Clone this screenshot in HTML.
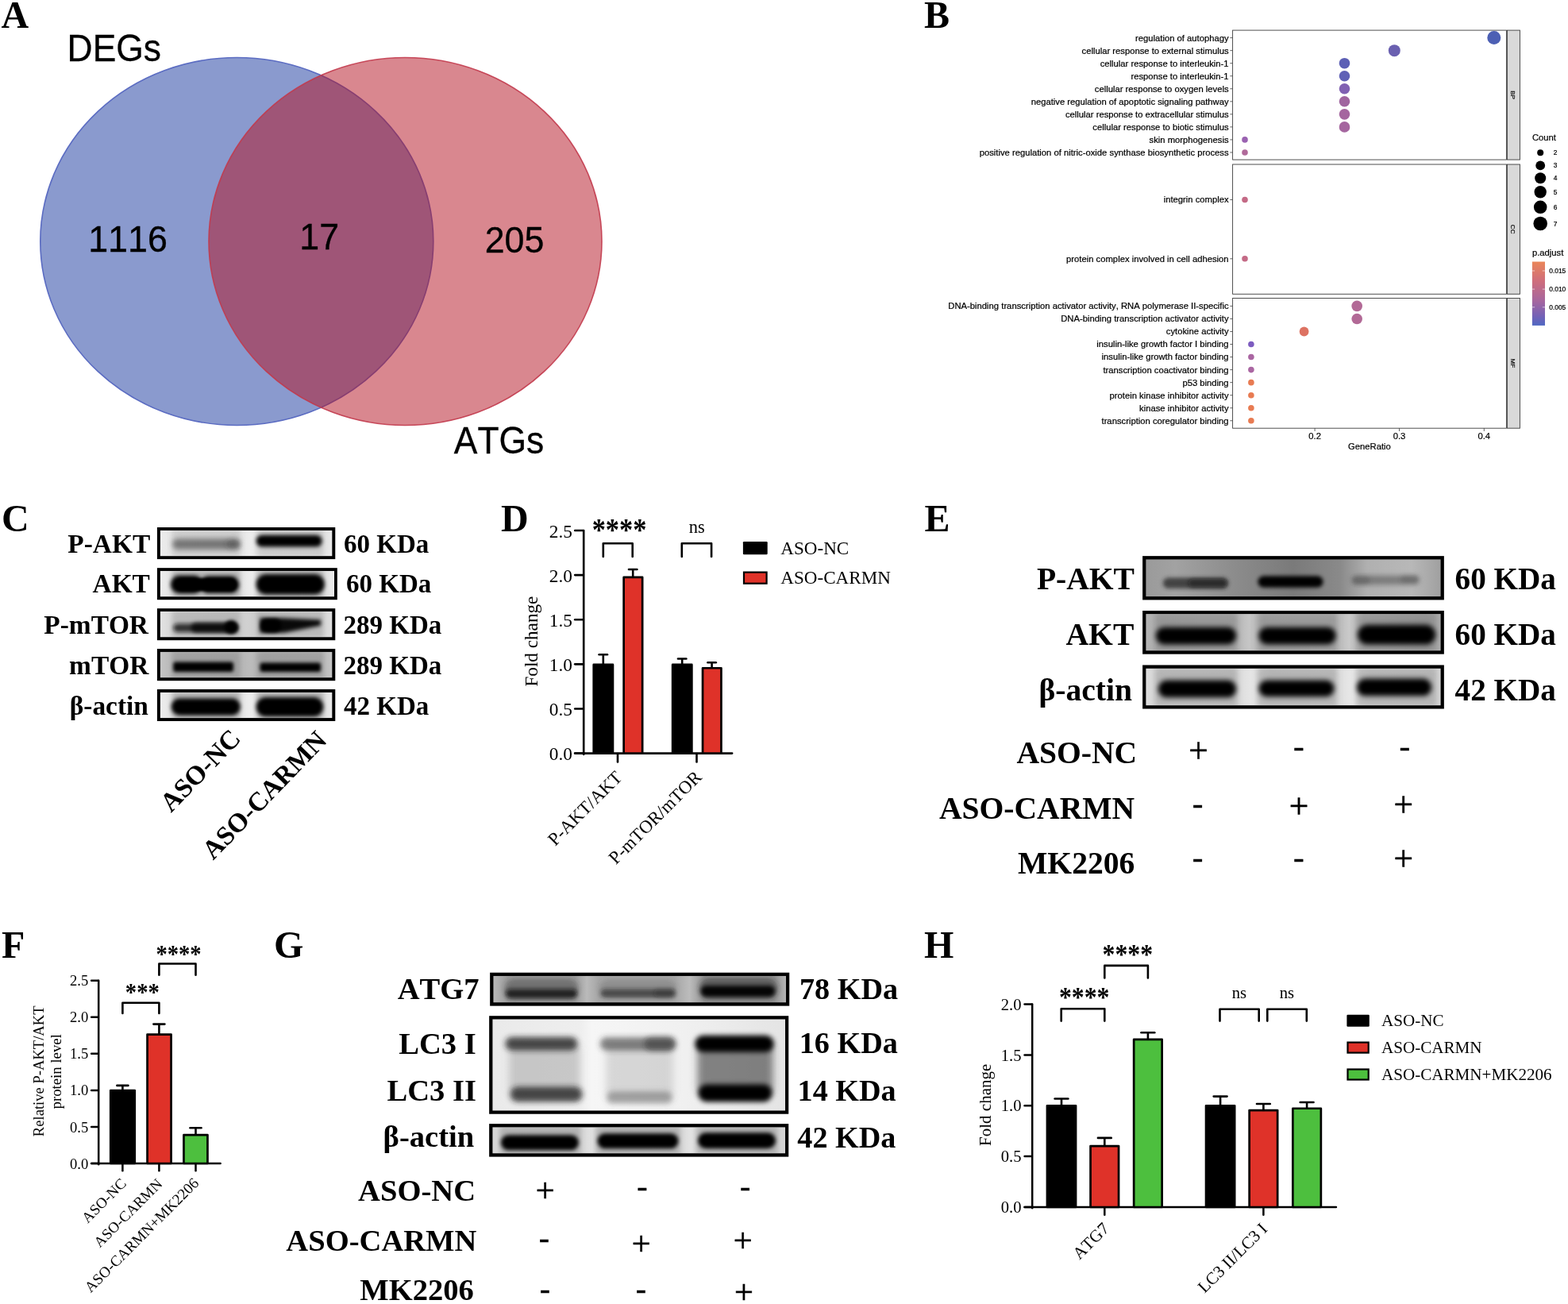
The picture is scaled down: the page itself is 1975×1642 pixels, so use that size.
<!DOCTYPE html>
<html lang="en">
<head>
<meta charset="utf-8">
<title>Figure: CARMN, AKT signalling and autophagy</title>
<style>
html,body{margin:0;padding:0;background:#fff;}
body{width:1975px;height:1642px;overflow:hidden;}
svg{display:block;}
text{font-kerning:none;}
.ff-serif{font-family:"Liberation Serif",serif;}
.ff-sans{font-family:"Liberation Sans",sans-serif;}
</style>
</head>
<body>
<svg width="1975" height="1642" viewBox="0 0 1975 1642">
<defs>
<linearGradient id="padj" x1="0" y1="0" x2="0" y2="1">
<stop offset="0" stop-color="#ea8659"/><stop offset="0.3" stop-color="#cf6e7c"/><stop offset="0.62" stop-color="#a5669f"/><stop offset="0.85" stop-color="#7561b6"/><stop offset="1" stop-color="#4f68c2"/>
</linearGradient>
<linearGradient id="bgC1" x1="0" y1="0" x2="1" y2="0">
<stop offset="0" stop-color="#ececec"/><stop offset="0.08" stop-color="#e6e6e6"/><stop offset="0.45" stop-color="#e4e4e4"/><stop offset="0.53" stop-color="#eeeeee"/><stop offset="0.61" stop-color="#e4e4e4"/><stop offset="0.93" stop-color="#e2e2e2"/><stop offset="1" stop-color="#eaeaea"/>
</linearGradient>
<linearGradient id="bgC3" x1="0" y1="0" x2="1" y2="0">
<stop offset="0" stop-color="#e2e2e2"/><stop offset="0.08" stop-color="#d8d8d8"/><stop offset="0.45" stop-color="#d2d2d2"/><stop offset="0.53" stop-color="#d0d0d0"/><stop offset="0.61" stop-color="#d2d2d2"/><stop offset="0.93" stop-color="#d6d6d6"/><stop offset="1" stop-color="#e0e0e0"/>
</linearGradient>
<linearGradient id="bgC4" x1="0" y1="0" x2="1" y2="0">
<stop offset="0" stop-color="#c4c4c4"/><stop offset="0.08" stop-color="#b8b8b8"/><stop offset="0.45" stop-color="#b6b6b6"/><stop offset="0.53" stop-color="#bcbcbc"/><stop offset="0.61" stop-color="#b6b6b6"/><stop offset="0.93" stop-color="#b8b8b8"/><stop offset="1" stop-color="#c6c6c6"/>
</linearGradient>
<linearGradient id="bgE1" x1="0" y1="0" x2="1" y2="0">
<stop offset="0" stop-color="#9a9a9a"/><stop offset="0.1" stop-color="#a2a2a2"/><stop offset="0.3" stop-color="#8c8c8c"/><stop offset="0.5" stop-color="#7a7a7a"/><stop offset="0.66" stop-color="#8a8a8a"/><stop offset="0.75" stop-color="#b0b0b0"/><stop offset="0.9" stop-color="#b8b8b8"/><stop offset="1" stop-color="#a0a0a0"/>
</linearGradient>
<linearGradient id="bgE2" x1="0" y1="0" x2="1" y2="0">
<stop offset="0" stop-color="#b4b4b4"/><stop offset="0.06" stop-color="#b0b0b0"/><stop offset="0.3" stop-color="#b4b4b4"/><stop offset="0.35" stop-color="#c6c6c6"/><stop offset="0.4" stop-color="#b4b4b4"/><stop offset="0.64" stop-color="#b6b6b6"/><stop offset="0.69" stop-color="#cacaca"/><stop offset="0.74" stop-color="#b2b2b2"/><stop offset="0.95" stop-color="#a8a8a8"/><stop offset="1" stop-color="#b0b0b0"/>
</linearGradient>
<linearGradient id="bgE3" x1="0" y1="0" x2="1" y2="0">
<stop offset="0" stop-color="#dcdcdc"/><stop offset="0.3" stop-color="#dadada"/><stop offset="0.36" stop-color="#e6e6e6"/><stop offset="0.42" stop-color="#dadada"/><stop offset="0.64" stop-color="#dcdcdc"/><stop offset="0.7" stop-color="#e8e8e8"/><stop offset="0.76" stop-color="#dcdcdc"/><stop offset="1" stop-color="#dadada"/>
</linearGradient>
<linearGradient id="bgG1" x1="0" y1="0" x2="1" y2="0">
<stop offset="0" stop-color="#b8b8b8"/><stop offset="0.05" stop-color="#9c9c9c"/><stop offset="0.28" stop-color="#9c9c9c"/><stop offset="0.32" stop-color="#bababa"/><stop offset="0.36" stop-color="#a6a6a6"/><stop offset="0.62" stop-color="#a6a6a6"/><stop offset="0.67" stop-color="#bcbcbc"/><stop offset="0.72" stop-color="#949494"/><stop offset="0.96" stop-color="#949494"/><stop offset="1" stop-color="#b4b4b4"/>
</linearGradient>
<linearGradient id="bgG2" x1="0" y1="0" x2="1" y2="0">
<stop offset="0" stop-color="#eaeaea"/><stop offset="0.3" stop-color="#eeeeee"/><stop offset="0.34" stop-color="#f6f6f6"/><stop offset="0.66" stop-color="#f0f0f0"/><stop offset="1" stop-color="#e4e4e4"/>
</linearGradient>
<linearGradient id="bgG3" x1="0" y1="0" x2="1" y2="0">
<stop offset="0" stop-color="#d8d8d8"/><stop offset="0.3" stop-color="#d6d6d6"/><stop offset="0.34" stop-color="#e2e2e2"/><stop offset="0.38" stop-color="#d6d6d6"/><stop offset="0.64" stop-color="#d8d8d8"/><stop offset="0.68" stop-color="#e4e4e4"/><stop offset="0.72" stop-color="#d8d8d8"/><stop offset="1" stop-color="#d4d4d4"/>
</linearGradient>
<filter id="bl1_5" x="-30%" y="-80%" width="160%" height="260%"><feGaussianBlur stdDeviation="1.5"/></filter>
<filter id="bl2_2" x="-30%" y="-80%" width="160%" height="260%"><feGaussianBlur stdDeviation="2.2"/></filter>
<filter id="bl2_4" x="-30%" y="-80%" width="160%" height="260%"><feGaussianBlur stdDeviation="2.4"/></filter>
<filter id="bl2_6" x="-30%" y="-80%" width="160%" height="260%"><feGaussianBlur stdDeviation="2.6"/></filter>
<filter id="bl2_8" x="-30%" y="-80%" width="160%" height="260%"><feGaussianBlur stdDeviation="2.8"/></filter>
<filter id="bl3" x="-30%" y="-80%" width="160%" height="260%"><feGaussianBlur stdDeviation="3"/></filter>
<filter id="bl3_2" x="-30%" y="-80%" width="160%" height="260%"><feGaussianBlur stdDeviation="3.2"/></filter>
<filter id="bl3_4" x="-30%" y="-80%" width="160%" height="260%"><feGaussianBlur stdDeviation="3.4"/></filter>
<filter id="bl3_6" x="-30%" y="-80%" width="160%" height="260%"><feGaussianBlur stdDeviation="3.6"/></filter>
<filter id="bl3_8" x="-30%" y="-80%" width="160%" height="260%"><feGaussianBlur stdDeviation="3.8"/></filter>
<filter id="bl5" x="-30%" y="-80%" width="160%" height="260%"><feGaussianBlur stdDeviation="5"/></filter>
</defs>
<rect x="0" y="0" width="1975" height="1642" fill="#fff"/>
<g id="panelA">
<text class="ff-serif" x="1.6" y="34.9" font-size="48" font-weight="bold">A</text>
<ellipse cx="298.3" cy="304" rx="247.5" ry="231.5" fill="#8a9ace" stroke="#5b6cc2" stroke-width="1.6"/>
<ellipse cx="510.5" cy="304" rx="247.5" ry="231.5" fill="#b31020" fill-opacity="0.5" stroke="#c23a4c" stroke-opacity="0.9" stroke-width="1.6"/>
<text class="ff-sans" font-size="44.4" transform="translate(84.6 76.9) scale(1 1.07)" x="0" y="0" stroke="#000" stroke-width="0.3">DEGs</text>
<text class="ff-sans" font-size="44.4" transform="translate(571.8 570.9) scale(1 1.07)" x="0" y="0" stroke="#000" stroke-width="0.3">ATGs</text>
<text class="ff-sans" font-size="44.8" text-anchor="middle" transform="translate(161 316.6) scale(1 1.05)" x="0" y="0" stroke="#000" stroke-width="0.3">1116</text>
<text class="ff-sans" font-size="44.8" text-anchor="middle" transform="translate(402.2 314) scale(1 1.05)" x="0" y="0" stroke="#000" stroke-width="0.3">17</text>
<text class="ff-sans" font-size="44.8" text-anchor="middle" transform="translate(648 318) scale(1 1.05)" x="0" y="0" stroke="#000" stroke-width="0.3">205</text>
</g>
<g id="panelB">
<text class="ff-serif" x="1164" y="35" font-size="48" font-weight="bold">B</text>
<rect x="1552.6" y="38.1" width="344.8" height="163" fill="#fff" stroke="#3c3c3c" stroke-width="0.9"/>
<rect x="1898.4" y="38.1" width="16" height="163" fill="#d9d9d9" stroke="#3c3c3c" stroke-width="0.9"/>
<text class="ff-sans" x="1902.9" y="119.6" font-size="8" text-anchor="middle" fill="#1a1a1a" transform="rotate(90 1902.9 119.6)" stroke="#000" stroke-width="0.22">BP</text>
<rect x="1552.6" y="207" width="344.8" height="163.3" fill="#fff" stroke="#3c3c3c" stroke-width="0.9"/>
<rect x="1898.4" y="207" width="16" height="163.3" fill="#d9d9d9" stroke="#3c3c3c" stroke-width="0.9"/>
<text class="ff-sans" x="1902.9" y="288.65" font-size="8" text-anchor="middle" fill="#1a1a1a" transform="rotate(90 1902.9 288.65)" stroke="#000" stroke-width="0.22">CC</text>
<rect x="1552.6" y="375.5" width="344.8" height="163.7" fill="#fff" stroke="#3c3c3c" stroke-width="0.9"/>
<rect x="1898.4" y="375.5" width="16" height="163.7" fill="#d9d9d9" stroke="#3c3c3c" stroke-width="0.9"/>
<text class="ff-sans" x="1902.9" y="457.35" font-size="8" text-anchor="middle" fill="#1a1a1a" transform="rotate(90 1902.9 457.35)" stroke="#000" stroke-width="0.22">MF</text>
<text class="ff-sans" x="1547.6" y="51.5" font-size="11.25" text-anchor="end" stroke="#000" stroke-width="0.22">regulation of autophagy</text>
<line x1="1549.3" y1="47.6" x2="1552.6" y2="47.6" stroke="#3c3c3c" stroke-width="0.8"/>
<circle cx="1881.8" cy="47.6" r="8.5" fill="#4d60b4"/>
<text class="ff-sans" x="1547.6" y="67.54" font-size="11.25" text-anchor="end" stroke="#000" stroke-width="0.22">cellular response to external stimulus</text>
<line x1="1549.3" y1="63.64" x2="1552.6" y2="63.64" stroke="#3c3c3c" stroke-width="0.8"/>
<circle cx="1756.3" cy="63.64" r="7.5" fill="#6a60b0"/>
<text class="ff-sans" x="1547.6" y="83.58" font-size="11.25" text-anchor="end" stroke="#000" stroke-width="0.22">cellular response to interleukin-1</text>
<line x1="1549.3" y1="79.68" x2="1552.6" y2="79.68" stroke="#3c3c3c" stroke-width="0.8"/>
<circle cx="1693.5" cy="79.68" r="6.8" fill="#5c5fb5"/>
<text class="ff-sans" x="1547.6" y="99.62" font-size="11.25" text-anchor="end" stroke="#000" stroke-width="0.22">response to interleukin-1</text>
<line x1="1549.3" y1="95.72" x2="1552.6" y2="95.72" stroke="#3c3c3c" stroke-width="0.8"/>
<circle cx="1693.5" cy="95.72" r="6.8" fill="#6061b6"/>
<text class="ff-sans" x="1547.6" y="115.66" font-size="11.25" text-anchor="end" stroke="#000" stroke-width="0.22">cellular response to oxygen levels</text>
<line x1="1549.3" y1="111.76" x2="1552.6" y2="111.76" stroke="#3c3c3c" stroke-width="0.8"/>
<circle cx="1693.5" cy="111.76" r="6.8" fill="#8061b2"/>
<text class="ff-sans" x="1547.6" y="131.7" font-size="11.25" text-anchor="end" stroke="#000" stroke-width="0.22">negative regulation of apoptotic signaling pathway</text>
<line x1="1549.3" y1="127.8" x2="1552.6" y2="127.8" stroke="#3c3c3c" stroke-width="0.8"/>
<circle cx="1693.5" cy="127.8" r="6.8" fill="#a0659f"/>
<text class="ff-sans" x="1547.6" y="147.74" font-size="11.25" text-anchor="end" stroke="#000" stroke-width="0.22">cellular response to extracellular stimulus</text>
<line x1="1549.3" y1="143.84" x2="1552.6" y2="143.84" stroke="#3c3c3c" stroke-width="0.8"/>
<circle cx="1693.5" cy="143.84" r="6.8" fill="#a5669f"/>
<text class="ff-sans" x="1547.6" y="163.78" font-size="11.25" text-anchor="end" stroke="#000" stroke-width="0.22">cellular response to biotic stimulus</text>
<line x1="1549.3" y1="159.88" x2="1552.6" y2="159.88" stroke="#3c3c3c" stroke-width="0.8"/>
<circle cx="1693.5" cy="159.88" r="6.8" fill="#a5669f"/>
<text class="ff-sans" x="1547.6" y="179.82" font-size="11.25" text-anchor="end" stroke="#000" stroke-width="0.22">skin morphogenesis</text>
<line x1="1549.3" y1="175.92" x2="1552.6" y2="175.92" stroke="#3c3c3c" stroke-width="0.8"/>
<circle cx="1568" cy="175.92" r="3.8" fill="#9a62b1"/>
<text class="ff-sans" x="1547.6" y="195.86" font-size="11.25" text-anchor="end" stroke="#000" stroke-width="0.22">positive regulation of nitric-oxide synthase biosynthetic process</text>
<line x1="1549.3" y1="191.96" x2="1552.6" y2="191.96" stroke="#3c3c3c" stroke-width="0.8"/>
<circle cx="1568" cy="191.96" r="3.8" fill="#b06a9a"/>
<text class="ff-sans" x="1547.6" y="255.4" font-size="11.25" text-anchor="end" stroke="#000" stroke-width="0.22">integrin complex</text>
<line x1="1549.3" y1="251.5" x2="1552.6" y2="251.5" stroke="#3c3c3c" stroke-width="0.8"/>
<circle cx="1568" cy="251.5" r="3.8" fill="#c46a86"/>
<text class="ff-sans" x="1547.6" y="329.7" font-size="11.25" text-anchor="end" stroke="#000" stroke-width="0.22">protein complex involved in cell adhesion</text>
<line x1="1549.3" y1="325.8" x2="1552.6" y2="325.8" stroke="#3c3c3c" stroke-width="0.8"/>
<circle cx="1568" cy="325.8" r="3.8" fill="#c46a86"/>
<text class="ff-sans" x="1547.6" y="389.3" font-size="11.25" text-anchor="end" stroke="#000" stroke-width="0.22">DNA-binding transcription activator activity, RNA polymerase II-specific</text>
<line x1="1549.3" y1="385.4" x2="1552.6" y2="385.4" stroke="#3c3c3c" stroke-width="0.8"/>
<circle cx="1709.2" cy="385.4" r="6.8" fill="#b26996"/>
<text class="ff-sans" x="1547.6" y="405.34" font-size="11.25" text-anchor="end" stroke="#000" stroke-width="0.22">DNA-binding transcription activator activity</text>
<line x1="1549.3" y1="401.44" x2="1552.6" y2="401.44" stroke="#3c3c3c" stroke-width="0.8"/>
<circle cx="1709.2" cy="401.44" r="6.8" fill="#b26996"/>
<text class="ff-sans" x="1547.6" y="421.38" font-size="11.25" text-anchor="end" stroke="#000" stroke-width="0.22">cytokine activity</text>
<line x1="1549.3" y1="417.48" x2="1552.6" y2="417.48" stroke="#3c3c3c" stroke-width="0.8"/>
<circle cx="1642.6" cy="417.48" r="5.9" fill="#dd7262"/>
<text class="ff-sans" x="1547.6" y="437.42" font-size="11.25" text-anchor="end" stroke="#000" stroke-width="0.22">insulin-like growth factor I binding</text>
<line x1="1549.3" y1="433.52" x2="1552.6" y2="433.52" stroke="#3c3c3c" stroke-width="0.8"/>
<circle cx="1575.9" cy="433.52" r="3.8" fill="#7d5cc0"/>
<text class="ff-sans" x="1547.6" y="453.46" font-size="11.25" text-anchor="end" stroke="#000" stroke-width="0.22">insulin-like growth factor binding</text>
<line x1="1549.3" y1="449.56" x2="1552.6" y2="449.56" stroke="#3c3c3c" stroke-width="0.8"/>
<circle cx="1575.9" cy="449.56" r="3.8" fill="#aa66a2"/>
<text class="ff-sans" x="1547.6" y="469.5" font-size="11.25" text-anchor="end" stroke="#000" stroke-width="0.22">transcription coactivator binding</text>
<line x1="1549.3" y1="465.6" x2="1552.6" y2="465.6" stroke="#3c3c3c" stroke-width="0.8"/>
<circle cx="1575.9" cy="465.6" r="3.8" fill="#aa66a2"/>
<text class="ff-sans" x="1547.6" y="485.54" font-size="11.25" text-anchor="end" stroke="#000" stroke-width="0.22">p53 binding</text>
<line x1="1549.3" y1="481.64" x2="1552.6" y2="481.64" stroke="#3c3c3c" stroke-width="0.8"/>
<circle cx="1575.9" cy="481.64" r="3.8" fill="#e87b52"/>
<text class="ff-sans" x="1547.6" y="501.58" font-size="11.25" text-anchor="end" stroke="#000" stroke-width="0.22">protein kinase inhibitor activity</text>
<line x1="1549.3" y1="497.68" x2="1552.6" y2="497.68" stroke="#3c3c3c" stroke-width="0.8"/>
<circle cx="1575.9" cy="497.68" r="3.8" fill="#e87b52"/>
<text class="ff-sans" x="1547.6" y="517.62" font-size="11.25" text-anchor="end" stroke="#000" stroke-width="0.22">kinase inhibitor activity</text>
<line x1="1549.3" y1="513.72" x2="1552.6" y2="513.72" stroke="#3c3c3c" stroke-width="0.8"/>
<circle cx="1575.9" cy="513.72" r="3.8" fill="#e87b52"/>
<text class="ff-sans" x="1547.6" y="533.66" font-size="11.25" text-anchor="end" stroke="#000" stroke-width="0.22">transcription coregulator binding</text>
<line x1="1549.3" y1="529.76" x2="1552.6" y2="529.76" stroke="#3c3c3c" stroke-width="0.8"/>
<circle cx="1575.9" cy="529.76" r="3.8" fill="#e87b52"/>
<line x1="1656.1" y1="539.2" x2="1656.1" y2="543" stroke="#3c3c3c" stroke-width="0.8"/>
<text class="ff-sans" x="1656.1" y="552.5" font-size="11.25" text-anchor="middle" stroke="#000" stroke-width="0.22">0.2</text>
<line x1="1762.5" y1="539.2" x2="1762.5" y2="543" stroke="#3c3c3c" stroke-width="0.8"/>
<text class="ff-sans" x="1762.5" y="552.5" font-size="11.25" text-anchor="middle" stroke="#000" stroke-width="0.22">0.3</text>
<line x1="1869.3" y1="539.2" x2="1869.3" y2="543" stroke="#3c3c3c" stroke-width="0.8"/>
<text class="ff-sans" x="1869.3" y="552.5" font-size="11.25" text-anchor="middle" stroke="#000" stroke-width="0.22">0.4</text>
<text class="ff-sans" x="1725" y="565.7" font-size="11.25" text-anchor="middle" stroke="#000" stroke-width="0.22">GeneRatio</text>
<text class="ff-sans" x="1929.9" y="177.1" font-size="11.25" stroke="#000" stroke-width="0.22">Count</text>
<circle cx="1940.2" cy="192.3" r="4" fill="#000"/>
<text class="ff-sans" x="1956.8" y="195.3" font-size="8.3" stroke="#000" stroke-width="0.22">2</text>
<circle cx="1940.2" cy="208.4" r="5.9" fill="#000"/>
<text class="ff-sans" x="1956.8" y="211.4" font-size="8.3" stroke="#000" stroke-width="0.22">3</text>
<circle cx="1940.2" cy="224.2" r="7" fill="#000"/>
<text class="ff-sans" x="1956.8" y="227.2" font-size="8.3" stroke="#000" stroke-width="0.22">4</text>
<circle cx="1940.2" cy="241.8" r="7.7" fill="#000"/>
<text class="ff-sans" x="1956.8" y="244.8" font-size="8.3" stroke="#000" stroke-width="0.22">5</text>
<circle cx="1940.2" cy="260.8" r="8.3" fill="#000"/>
<text class="ff-sans" x="1956.8" y="263.8" font-size="8.3" stroke="#000" stroke-width="0.22">6</text>
<circle cx="1940.2" cy="281.5" r="8.8" fill="#000"/>
<text class="ff-sans" x="1956.8" y="284.5" font-size="8.3" stroke="#000" stroke-width="0.22">7</text>
<text class="ff-sans" x="1929.9" y="321.8" font-size="11.25" stroke="#000" stroke-width="0.22">p.adjust</text>
<rect x="1929.9" y="329.5" width="16.1" height="80.4" fill="url(#padj)"/>
<line x1="1929.9" y1="341" x2="1933.1" y2="341" stroke="#fff" stroke-width="0.6"/>
<line x1="1942.8" y1="341" x2="1946" y2="341" stroke="#fff" stroke-width="0.6"/>
<text class="ff-sans" x="1951.3" y="344" font-size="8.4" stroke="#000" stroke-width="0.22">0.015</text>
<line x1="1929.9" y1="364.1" x2="1933.1" y2="364.1" stroke="#fff" stroke-width="0.6"/>
<line x1="1942.8" y1="364.1" x2="1946" y2="364.1" stroke="#fff" stroke-width="0.6"/>
<text class="ff-sans" x="1951.3" y="367.1" font-size="8.4" stroke="#000" stroke-width="0.22">0.010</text>
<line x1="1929.9" y1="386.8" x2="1933.1" y2="386.8" stroke="#fff" stroke-width="0.6"/>
<line x1="1942.8" y1="386.8" x2="1946" y2="386.8" stroke="#fff" stroke-width="0.6"/>
<text class="ff-sans" x="1951.3" y="389.8" font-size="8.4" stroke="#000" stroke-width="0.22">0.005</text>
</g>
<g id="panelC">
<text class="ff-serif" x="2" y="668.6" font-size="48" font-weight="bold">C</text>
<text class="ff-serif" x="189.2" y="695.6" font-size="33.4" font-weight="bold" text-anchor="end">P-AKT</text>
<text class="ff-serif" x="433" y="695.6" font-size="33" font-weight="bold">60 KDa</text>
<text class="ff-serif" x="188.9" y="746.4" font-size="33.4" font-weight="bold" text-anchor="end">AKT</text>
<text class="ff-serif" x="436" y="746.4" font-size="33" font-weight="bold">60 KDa</text>
<text class="ff-serif" x="187" y="797.9" font-size="33.4" font-weight="bold" text-anchor="end">P-mTOR</text>
<text class="ff-serif" x="432.5" y="797.9" font-size="33" font-weight="bold">289 KDa</text>
<text class="ff-serif" x="187.3" y="849.2" font-size="33.4" font-weight="bold" text-anchor="end">mTOR</text>
<text class="ff-serif" x="432.5" y="849.2" font-size="33" font-weight="bold">289 KDa</text>
<text class="ff-serif" x="186.9" y="899.9" font-size="33.4" font-weight="bold" text-anchor="end">β-actin</text>
<text class="ff-serif" x="433" y="899.9" font-size="33" font-weight="bold">42 KDa</text>
<clipPath id="bc1"><rect x="201.62" y="667.72" width="216.95" height="32.66"/></clipPath>
<rect x="197.92" y="664.02" width="224.35" height="40.06" fill="#000"/>
<g clip-path="url(#bc1)">
<rect x="201.62" y="667.72" width="216.95" height="32.66" fill="url(#bgC1)"/>
<rect x="216.6" y="666.87" width="86.13" height="34.36" rx="3" fill="#6a6a6a" fill-opacity="0.2" filter="url(#bl3_2)"/>
<rect x="322.84" y="666.87" width="84.86" height="34.36" rx="3" fill="#6a6a6a" fill-opacity="0.2" filter="url(#bl3_2)"/>
<rect x="217.23" y="678.43" width="85.5" height="13.3" rx="6.65" fill="#5a5a5a" fill-opacity="0.75" filter="url(#bl3)"/>
<rect x="285" y="679.54" width="17.1" height="11.24" rx="5.62" fill="#333" fill-opacity="0.3" filter="url(#bl3)"/>
<rect x="322.68" y="673.68" width="82.96" height="14.88" rx="7.44" fill="#000" fill-opacity="1" filter="url(#bl2_6)"/>
</g>
<clipPath id="bc2"><rect x="201.62" y="718.86" width="219.48" height="32.66"/></clipPath>
<rect x="197.92" y="715.16" width="226.88" height="40.06" fill="#000"/>
<g clip-path="url(#bc2)">
<rect x="201.62" y="718.86" width="219.48" height="32.66" fill="url(#bgC1)"/>
<rect x="216.6" y="718.01" width="86.13" height="34.36" rx="3" fill="#6a6a6a" fill-opacity="0.4" filter="url(#bl3_2)"/>
<rect x="322.84" y="718.01" width="84.86" height="34.36" rx="3" fill="#6a6a6a" fill-opacity="0.4" filter="url(#bl3_2)"/>
<rect x="215.02" y="724.66" width="40.22" height="22.48" rx="11.24" fill="#000" fill-opacity="1" filter="url(#bl2_6)"/>
<rect x="252.06" y="725.61" width="49.08" height="21.22" rx="10.61" fill="#000" fill-opacity="1" filter="url(#bl2_6)"/>
<rect x="221.67" y="728.15" width="76" height="15.83" rx="7.92" fill="#000" fill-opacity="1" filter="url(#bl1_5)"/>
<rect x="322.68" y="723.08" width="86.13" height="25.33" rx="12.67" fill="#000" fill-opacity="1" filter="url(#bl2_6)"/>
</g>
<clipPath id="bc3"><rect x="201.62" y="769.85" width="216.95" height="32.66"/></clipPath>
<rect x="197.92" y="766.15" width="224.35" height="40.06" fill="#000"/>
<g clip-path="url(#bc3)">
<rect x="201.62" y="769.85" width="216.95" height="32.66" fill="url(#bgC3)"/>
<rect x="216.6" y="769" width="86.13" height="34.36" rx="3" fill="#6a6a6a" fill-opacity="0.28" filter="url(#bl3_2)"/>
<rect x="322.84" y="769" width="84.86" height="34.36" rx="3" fill="#6a6a6a" fill-opacity="0.28" filter="url(#bl3_2)"/>
<rect x="218.18" y="785.15" width="81.06" height="10.77" rx="5.38" fill="#111" fill-opacity="0.8" filter="url(#bl2_6)"/>
<rect x="240.66" y="783.88" width="58.9" height="12.67" rx="6.33" fill="#000" fill-opacity="0.75" filter="url(#bl2_4)"/>
<rect x="282.62" y="781.19" width="16.94" height="16.78" rx="8.39" fill="#000" fill-opacity="1" filter="url(#bl2_2)"/>
<path d="M327.43 778.18 L356.24 778.18 L404.06 780.4 L404.06 787.68 L357.83 796.86 L327.43 796.86 Z" fill="#000" fill-opacity="0.95" filter="url(#bl2_6)"/>
<rect x="328.06" y="779.29" width="26.6" height="16.94" rx="8.47" fill="#000" fill-opacity="1" filter="url(#bl2_2)"/>
</g>
<clipPath id="bc4"><rect x="201.62" y="820.67" width="216.95" height="32.82"/></clipPath>
<rect x="197.92" y="816.97" width="224.35" height="40.22" fill="#000"/>
<g clip-path="url(#bc4)">
<rect x="201.62" y="820.67" width="216.95" height="32.82" fill="url(#bgC4)"/>
<rect x="216.6" y="819.82" width="86.13" height="34.52" rx="3" fill="#6a6a6a" fill-opacity="0.3" filter="url(#bl3_2)"/>
<rect x="322.84" y="819.82" width="84.86" height="34.52" rx="3" fill="#6a6a6a" fill-opacity="0.3" filter="url(#bl3_2)"/>
<rect x="218.18" y="833.59" width="75.84" height="12.51" rx="3" fill="#000" fill-opacity="1" filter="url(#bl2_2)"/>
<rect x="327.43" y="834.39" width="76.63" height="11.72" rx="3" fill="#000" fill-opacity="1" filter="url(#bl2_2)"/>
</g>
<clipPath id="bc5"><rect x="201.62" y="871.65" width="216.95" height="32.66"/></clipPath>
<rect x="197.92" y="867.95" width="224.35" height="40.06" fill="#000"/>
<g clip-path="url(#bc5)">
<rect x="201.62" y="871.65" width="216.95" height="32.66" fill="url(#bgC1)"/>
<rect x="216.6" y="870.8" width="86.13" height="34.36" rx="3" fill="#6a6a6a" fill-opacity="0.4" filter="url(#bl3_2)"/>
<rect x="322.84" y="870.8" width="84.86" height="34.36" rx="3" fill="#6a6a6a" fill-opacity="0.4" filter="url(#bl3_2)"/>
<rect x="215.81" y="879.51" width="86.92" height="21.22" rx="10.61" fill="#000" fill-opacity="1" filter="url(#bl2_6)"/>
<rect x="322.68" y="877.93" width="84.55" height="24.38" rx="12.19" fill="#000" fill-opacity="1" filter="url(#bl2_6)"/>
</g>
<text class="ff-serif" x="304.8" y="931.6" font-size="33.5" font-weight="bold" text-anchor="end" transform="rotate(-46 304.8 931.6)">ASO-NC</text>
<text class="ff-serif" x="413.4" y="933.9" font-size="33.5" font-weight="bold" text-anchor="end" transform="rotate(-46 413.4 933.9)">ASO-CARMN</text>
</g>
<g id="panelD">
<text class="ff-serif" x="631" y="669" font-size="48" font-weight="bold">D</text>
<line x1="735.2" y1="668" x2="735.2" y2="949.9" stroke="#000" stroke-width="2.6" stroke-linecap="round"/>
<line x1="724.2" y1="948.6" x2="734.6" y2="948.6" stroke="#000" stroke-width="2.6" stroke-linecap="round"/>
<text class="ff-serif" x="720.9" y="957.4" font-size="23.3" text-anchor="end">0.0</text>
<line x1="724.2" y1="892.48" x2="734.6" y2="892.48" stroke="#000" stroke-width="2.6" stroke-linecap="round"/>
<text class="ff-serif" x="720.9" y="901.28" font-size="23.3" text-anchor="end">0.5</text>
<line x1="724.2" y1="836.36" x2="734.6" y2="836.36" stroke="#000" stroke-width="2.6" stroke-linecap="round"/>
<text class="ff-serif" x="720.9" y="845.16" font-size="23.3" text-anchor="end">1.0</text>
<line x1="724.2" y1="780.24" x2="734.6" y2="780.24" stroke="#000" stroke-width="2.6" stroke-linecap="round"/>
<text class="ff-serif" x="720.9" y="789.04" font-size="23.3" text-anchor="end">1.5</text>
<line x1="724.2" y1="724.12" x2="734.6" y2="724.12" stroke="#000" stroke-width="2.6" stroke-linecap="round"/>
<text class="ff-serif" x="720.9" y="732.92" font-size="23.3" text-anchor="end">2.0</text>
<line x1="724.2" y1="668" x2="734.6" y2="668" stroke="#000" stroke-width="2.6" stroke-linecap="round"/>
<text class="ff-serif" x="720.9" y="676.8" font-size="23.3" text-anchor="end">2.5</text>
<line x1="724.2" y1="948.6" x2="922.1" y2="948.6" stroke="#000" stroke-width="2.6" stroke-linecap="round"/>
<line x1="778" y1="949.2" x2="778" y2="959.5" stroke="#000" stroke-width="2.6" stroke-linecap="round"/>
<line x1="877.5" y1="949.2" x2="877.5" y2="959.5" stroke="#000" stroke-width="2.6" stroke-linecap="round"/>
<line x1="759.8" y1="824.3" x2="759.8" y2="837.4" stroke="#000" stroke-width="2.6"/><line x1="754.6" y1="824.3" x2="765" y2="824.3" stroke="#000" stroke-width="2.6" stroke-linecap="round"/>
<rect x="747.75" y="836.95" width="24.2" height="111.65" fill="#000" stroke="#000" stroke-width="2.7" stroke-linejoin="round"/>
<line x1="797.2" y1="717" x2="797.2" y2="727" stroke="#000" stroke-width="2.6"/><line x1="792" y1="717" x2="802.4" y2="717" stroke="#000" stroke-width="2.6" stroke-linecap="round"/>
<rect x="785.65" y="726.95" width="23.5" height="221.65" fill="#df3229" stroke="#000" stroke-width="2.7" stroke-linejoin="round"/>
<line x1="859.2" y1="829.5" x2="859.2" y2="837.4" stroke="#000" stroke-width="2.6"/><line x1="854" y1="829.5" x2="864.4" y2="829.5" stroke="#000" stroke-width="2.6" stroke-linecap="round"/>
<rect x="847.15" y="836.95" width="24.2" height="111.65" fill="#000" stroke="#000" stroke-width="2.7" stroke-linejoin="round"/>
<line x1="896.6" y1="834.3" x2="896.6" y2="841.3" stroke="#000" stroke-width="2.6"/><line x1="891.4" y1="834.3" x2="901.8" y2="834.3" stroke="#000" stroke-width="2.6" stroke-linecap="round"/>
<rect x="885.05" y="841.25" width="23.4" height="107.35" fill="#df3229" stroke="#000" stroke-width="2.7" stroke-linejoin="round"/>
<polyline points="759.8,701 759.8,684.2 796.7,684.2 796.7,701" fill="none" stroke="#000" stroke-width="2.6" stroke-linejoin="round" stroke-linecap="round"/>
<polyline points="858.8,701 858.8,684.2 896.1,684.2 896.1,701" fill="none" stroke="#000" stroke-width="2.6" stroke-linejoin="round" stroke-linecap="round"/>
<text class="ff-serif" font-weight="bold" font-size="34.4" transform="translate(780 661.7) scale(1 1.14)" x="-34.38" y="16.24">****</text>
<text class="ff-serif" x="877.8" y="670.7" font-size="22.5" text-anchor="middle">ns</text>
<text class="ff-serif" x="676.8" y="807.6" font-size="23.2" text-anchor="middle" transform="rotate(-90 676.8 807.6)">Fold change</text>
<rect x="935.9" y="682" width="30.8" height="16.3" fill="#000" rx="1.2"/>
<rect x="937" y="720.6" width="28.6" height="14.1" fill="#df3229" stroke="#000" stroke-width="2.2"/>
<text class="ff-serif" x="983.3" y="697.6" font-size="23.1">ASO-NC</text>
<text class="ff-serif" x="983.3" y="735.1" font-size="23.1">ASO-CARMN</text>
<text class="ff-serif" x="785" y="980.2" font-size="23" text-anchor="end" transform="rotate(-45 785 980.2)">P-AKT/AKT</text>
<text class="ff-serif" x="885.2" y="980" font-size="23" text-anchor="end" transform="rotate(-45 885.2 980)">P-mTOR/mTOR</text>
</g>
<g id="panelE">
<text class="ff-serif" x="1164.5" y="668.8" font-size="48" font-weight="bold">E</text>
<text class="ff-serif" x="1429" y="742.1" font-size="39.6" font-weight="bold" text-anchor="end">P-AKT</text>
<text class="ff-serif" x="1832.6" y="742.1" font-size="39.2" font-weight="bold">60 KDa</text>
<text class="ff-serif" x="1428.3" y="812.2" font-size="39.6" font-weight="bold" text-anchor="end">AKT</text>
<text class="ff-serif" x="1832.6" y="812.2" font-size="39.2" font-weight="bold">60 KDa</text>
<text class="ff-serif" x="1426" y="881.6" font-size="39.6" font-weight="bold" text-anchor="end">β-actin</text>
<text class="ff-serif" x="1832.6" y="881.6" font-size="39.2" font-weight="bold">42 KDa</text>
<text class="ff-serif" x="1432.2" y="960.5" font-size="39.6" font-weight="bold" text-anchor="end">ASO-NC</text>
<text class="ff-serif" x="1429.2" y="1030.6" font-size="39.6" font-weight="bold" text-anchor="end">ASO-CARMN</text>
<text class="ff-serif" x="1429.3" y="1100.1" font-size="39.6" font-weight="bold" text-anchor="end">MK2206</text>
<clipPath id="bc6"><rect x="1443.21" y="704.23" width="371.55" height="47.09"/></clipPath>
<rect x="1439.11" y="700.13" width="379.75" height="55.29" fill="#000"/>
<g clip-path="url(#bc6)">
<rect x="1443.21" y="704.23" width="371.55" height="47.09" fill="url(#bgE1)"/>
<rect x="1464.84" y="727.47" width="82.23" height="13.57" rx="6.78" fill="#2a2a2a" fill-opacity="0.8" filter="url(#bl2_8)"/>
<rect x="1496.84" y="728.89" width="48.61" height="10.94" rx="5.47" fill="#111" fill-opacity="0.5" filter="url(#bl2_4)"/>
<rect x="1584.33" y="725.24" width="82.23" height="14.58" rx="7.29" fill="#000" fill-opacity="1" filter="url(#bl2_6)"/>
<rect x="1702.41" y="724.84" width="85.06" height="11.34" rx="5.67" fill="#555" fill-opacity="0.6" filter="url(#bl3_2)"/>
<rect x="1703.42" y="726.05" width="22.28" height="9.72" rx="4.86" fill="#444" fill-opacity="0.3" filter="url(#bl2_6)"/>
<rect x="1764.18" y="724.84" width="22.68" height="8.91" rx="4.46" fill="#444" fill-opacity="0.3" filter="url(#bl2_6)"/>
</g>
<clipPath id="bc7"><rect x="1443.21" y="773.09" width="371.55" height="46.48"/></clipPath>
<rect x="1439.11" y="768.99" width="379.75" height="54.68" fill="#000"/>
<g clip-path="url(#bc7)">
<rect x="1443.21" y="773.09" width="371.55" height="46.48" fill="url(#bgE2)"/>
<rect x="1454.3" y="771.82" width="104.71" height="49.01" rx="3" fill="#5a5a5a" fill-opacity="0.3" filter="url(#bl3_6)"/>
<rect x="1583.52" y="771.82" width="101.06" height="49.01" rx="3" fill="#5a5a5a" fill-opacity="0.3" filter="url(#bl3_6)"/>
<rect x="1708.08" y="771.82" width="102.08" height="49.01" rx="3" fill="#5a5a5a" fill-opacity="0.3" filter="url(#bl3_6)"/>
<rect x="1455.92" y="789.65" width="101.06" height="21.87" rx="10.94" fill="#000" fill-opacity="1" filter="url(#bl3)"/>
<rect x="1585.54" y="789.65" width="97.01" height="21.87" rx="10.94" fill="#000" fill-opacity="1" filter="url(#bl3)"/>
<rect x="1710.1" y="786.81" width="98.03" height="24.71" rx="12.35" fill="#000" fill-opacity="1" filter="url(#bl3)"/>
</g>
<clipPath id="bc8"><rect x="1443.21" y="841.54" width="371.55" height="46.89"/></clipPath>
<rect x="1439.11" y="837.44" width="379.75" height="55.09" fill="#000"/>
<g clip-path="url(#bc8)">
<rect x="1443.21" y="841.54" width="371.55" height="46.89" fill="url(#bgE3)"/>
<rect x="1454.3" y="840.28" width="104.71" height="49.42" rx="3" fill="#5a5a5a" fill-opacity="0.3" filter="url(#bl3_6)"/>
<rect x="1583.52" y="840.28" width="101.06" height="49.42" rx="3" fill="#5a5a5a" fill-opacity="0.3" filter="url(#bl3_6)"/>
<rect x="1708.08" y="840.28" width="102.08" height="49.42" rx="3" fill="#5a5a5a" fill-opacity="0.3" filter="url(#bl3_6)"/>
<rect x="1458.96" y="856.48" width="98.03" height="21.87" rx="10.94" fill="#000" fill-opacity="1" filter="url(#bl3)"/>
<rect x="1585.54" y="856.48" width="94.99" height="20.86" rx="10.43" fill="#000" fill-opacity="1" filter="url(#bl3)"/>
<rect x="1709.09" y="854.46" width="93.97" height="21.87" rx="10.94" fill="#000" fill-opacity="1" filter="url(#bl3)"/>
</g>
<text class="ff-serif" x="1497.33" y="959.96" font-size="43.5" stroke="#000" stroke-width="0.6">+</text>
<text class="ff-serif" x="1628.97" y="953.08" font-size="41" stroke="#000" stroke-width="0.4">-</text>
<text class="ff-serif" x="1762.57" y="953.08" font-size="41" stroke="#000" stroke-width="0.4">-</text>
<text class="ff-serif" x="1501.87" y="1024.58" font-size="41" stroke="#000" stroke-width="0.4">-</text>
<text class="ff-serif" x="1623.83" y="1030.46" font-size="43.5" stroke="#000" stroke-width="0.6">+</text>
<text class="ff-serif" x="1755.53" y="1027.86" font-size="43.5" stroke="#000" stroke-width="0.6">+</text>
<text class="ff-serif" x="1501.87" y="1093.18" font-size="41" stroke="#000" stroke-width="0.4">-</text>
<text class="ff-serif" x="1628.97" y="1092.98" font-size="41" stroke="#000" stroke-width="0.4">-</text>
<text class="ff-serif" x="1755.53" y="1095.66" font-size="43.5" stroke="#000" stroke-width="0.6">+</text>
</g>
<g id="panelF">
<text class="ff-serif" x="2" y="1206.2" font-size="48" font-weight="bold">F</text>
<line x1="124.2" y1="1234.7" x2="124.2" y2="1466.25" stroke="#000" stroke-width="2.5" stroke-linecap="round"/>
<line x1="115.15" y1="1465" x2="123.6" y2="1465" stroke="#000" stroke-width="2.5" stroke-linecap="round"/>
<text class="ff-serif" x="111.3" y="1471.6" font-size="18.6" text-anchor="end">0.0</text>
<line x1="115.15" y1="1418.94" x2="123.6" y2="1418.94" stroke="#000" stroke-width="2.5" stroke-linecap="round"/>
<text class="ff-serif" x="111.3" y="1425.54" font-size="18.6" text-anchor="end">0.5</text>
<line x1="115.15" y1="1372.88" x2="123.6" y2="1372.88" stroke="#000" stroke-width="2.5" stroke-linecap="round"/>
<text class="ff-serif" x="111.3" y="1379.48" font-size="18.6" text-anchor="end">1.0</text>
<line x1="115.15" y1="1326.82" x2="123.6" y2="1326.82" stroke="#000" stroke-width="2.5" stroke-linecap="round"/>
<text class="ff-serif" x="111.3" y="1333.42" font-size="18.6" text-anchor="end">1.5</text>
<line x1="115.15" y1="1280.76" x2="123.6" y2="1280.76" stroke="#000" stroke-width="2.5" stroke-linecap="round"/>
<text class="ff-serif" x="111.3" y="1287.36" font-size="18.6" text-anchor="end">2.0</text>
<line x1="115.15" y1="1234.7" x2="123.6" y2="1234.7" stroke="#000" stroke-width="2.5" stroke-linecap="round"/>
<text class="ff-serif" x="111.3" y="1241.3" font-size="18.6" text-anchor="end">2.5</text>
<line x1="115.15" y1="1465" x2="277.65" y2="1465" stroke="#000" stroke-width="2.5" stroke-linecap="round"/>
<line x1="154.4" y1="1465.6" x2="154.4" y2="1474.15" stroke="#000" stroke-width="2.5" stroke-linecap="round"/>
<line x1="200.4" y1="1465.6" x2="200.4" y2="1474.15" stroke="#000" stroke-width="2.5" stroke-linecap="round"/>
<line x1="246.5" y1="1465.6" x2="246.5" y2="1474.15" stroke="#000" stroke-width="2.5" stroke-linecap="round"/>
<line x1="154.4" y1="1366.9" x2="154.4" y2="1373.3" stroke="#000" stroke-width="2.6"/><line x1="147.4" y1="1366.9" x2="161.4" y2="1366.9" stroke="#000" stroke-width="2.6" stroke-linecap="round"/>
<rect x="139.25" y="1373.15" width="30.5" height="91.85" fill="#000" stroke="#000" stroke-width="2.7" stroke-linejoin="round"/>
<line x1="200.4" y1="1289.6" x2="200.4" y2="1302.6" stroke="#000" stroke-width="2.6"/><line x1="193.4" y1="1289.6" x2="207.4" y2="1289.6" stroke="#000" stroke-width="2.6" stroke-linecap="round"/>
<rect x="185.55" y="1302.55" width="30" height="162.45" fill="#df3229" stroke="#000" stroke-width="2.7" stroke-linejoin="round"/>
<line x1="246.5" y1="1420.2" x2="246.5" y2="1429.2" stroke="#000" stroke-width="2.6"/><line x1="239.5" y1="1420.2" x2="253.5" y2="1420.2" stroke="#000" stroke-width="2.6" stroke-linecap="round"/>
<rect x="231.45" y="1429.15" width="30" height="35.85" fill="#4dbf3e" stroke="#000" stroke-width="2.7" stroke-linejoin="round"/>
<polyline points="154.4,1276 154.4,1262.7 200.4,1262.7 200.4,1276" fill="none" stroke="#000" stroke-width="2.6" stroke-linejoin="round" stroke-linecap="round"/>
<polyline points="200.4,1227.8 200.4,1213.5 246.5,1213.5 246.5,1227.8" fill="none" stroke="#000" stroke-width="2.6" stroke-linejoin="round" stroke-linecap="round"/>
<text class="ff-serif" font-weight="bold" font-size="28.6" transform="translate(179.3 1244.38) scale(1 1.14)" x="-21.44" y="13.5">***</text>
<text class="ff-serif" font-weight="bold" font-size="28.6" transform="translate(225 1196.18) scale(1 1.14)" x="-28.59" y="13.5">****</text>
<text class="ff-serif" x="54.7" y="1348.8" font-size="18.6" text-anchor="middle" transform="rotate(-90 54.7 1348.8)">Relative P-AKT/AKT</text>
<text class="ff-serif" x="77.4" y="1349.3" font-size="18.8" text-anchor="middle" transform="rotate(-90 77.4 1349.3)">protein level</text>
<text class="ff-serif" x="160" y="1491.5" font-size="18.8" text-anchor="end" transform="rotate(-45 160 1491.5)">ASO-NC</text>
<text class="ff-serif" x="205.5" y="1492" font-size="18.8" text-anchor="end" transform="rotate(-45 205.5 1492)">ASO-CARMN</text>
<text class="ff-serif" x="251.6" y="1491" font-size="19.1" text-anchor="end" transform="rotate(-45 251.6 1491)">ASO-CARMN+MK2206</text>
</g>
<g id="panelG">
<text class="ff-serif" x="344.9" y="1206" font-size="48" font-weight="bold">G</text>
<text class="ff-serif" x="603.6" y="1258.2" font-size="38.6" font-weight="bold" text-anchor="end">ATG7</text>
<text class="ff-serif" x="599.8" y="1326.6" font-size="38.6" font-weight="bold" text-anchor="end">LC3 I</text>
<text class="ff-serif" x="600" y="1385.6" font-size="38.6" font-weight="bold" text-anchor="end">LC3 II</text>
<text class="ff-serif" x="597.2" y="1444.4" font-size="38.6" font-weight="bold" text-anchor="end">β-actin</text>
<text class="ff-serif" x="599" y="1512" font-size="38.6" font-weight="bold" text-anchor="end">ASO-NC</text>
<text class="ff-serif" x="600.4" y="1574.8" font-size="38.6" font-weight="bold" text-anchor="end">ASO-CARMN</text>
<text class="ff-serif" x="596.8" y="1637.2" font-size="38.6" font-weight="bold" text-anchor="end">MK2206</text>
<text class="ff-serif" x="1007" y="1257.6" font-size="38.2" font-weight="bold">78 KDa</text>
<text class="ff-serif" x="1006.7" y="1326" font-size="38.2" font-weight="bold">16 KDa</text>
<text class="ff-serif" x="1004.6" y="1386.1" font-size="38.2" font-weight="bold">14 KDa</text>
<text class="ff-serif" x="1004.3" y="1445" font-size="38.2" font-weight="bold">42 KDa</text>
<clipPath id="bc9"><rect x="621.25" y="1228.82" width="368.91" height="33.72"/></clipPath>
<rect x="617.15" y="1224.72" width="377.11" height="41.92" fill="#000"/>
<g clip-path="url(#bc9)">
<rect x="621.25" y="1228.82" width="368.91" height="33.72" fill="url(#bgG1)"/>
<rect x="635.38" y="1232.22" width="93.16" height="26.33" rx="13.16" fill="#333" fill-opacity="0.4" filter="url(#bl3_4)"/>
<rect x="637" y="1245.38" width="89.92" height="11.54" rx="5.77" fill="#111" fill-opacity="0.8" filter="url(#bl2_6)"/>
<rect x="754.87" y="1233.23" width="97.22" height="24.3" rx="12.15" fill="#444" fill-opacity="0.25" filter="url(#bl3_4)"/>
<rect x="756.49" y="1245.38" width="93.97" height="10.53" rx="5.27" fill="#222" fill-opacity="0.6" filter="url(#bl2_6)"/>
<rect x="823.73" y="1245.78" width="26.73" height="9.72" rx="4.86" fill="#222" fill-opacity="0.3" filter="url(#bl2_6)"/>
<rect x="880.44" y="1231.2" width="99.24" height="27.34" rx="13.67" fill="#222" fill-opacity="0.5" filter="url(#bl3_4)"/>
<rect x="882.87" y="1241.33" width="93.16" height="13.57" rx="6.78" fill="#000" fill-opacity="0.95" filter="url(#bl2_6)"/>
</g>
<clipPath id="bc10"><rect x="620.24" y="1283.3" width="368.91" height="115.34"/></clipPath>
<rect x="616.14" y="1279.2" width="377.11" height="123.54" fill="#000"/>
<g clip-path="url(#bc10)">
<rect x="620.24" y="1283.3" width="368.91" height="115.34" fill="url(#bgG2)"/>
<rect x="641.46" y="1316.27" width="89.11" height="60.76" rx="6" fill="#777" fill-opacity="0.32" filter="url(#bl5)"/>
<rect x="762.97" y="1316.27" width="85.06" height="64.81" rx="6" fill="#888" fill-opacity="0.28" filter="url(#bl5)"/>
<rect x="878.42" y="1312.22" width="95.19" height="64.81" rx="6" fill="#333" fill-opacity="0.58" filter="url(#bl5)"/>
<rect x="636.39" y="1305.73" width="91.14" height="17.01" rx="8.51" fill="#222" fill-opacity="0.8" filter="url(#bl3_6)"/>
<rect x="755.89" y="1306.14" width="95.19" height="16.61" rx="8.3" fill="#333" fill-opacity="0.6" filter="url(#bl3_6)"/>
<rect x="811.58" y="1305.73" width="38.89" height="17.42" rx="8.71" fill="#222" fill-opacity="0.45" filter="url(#bl3_2)"/>
<rect x="875.38" y="1303.71" width="99.24" height="21.06" rx="10.53" fill="#000" fill-opacity="1" filter="url(#bl3_4)"/>
<rect x="642.47" y="1368.52" width="91.14" height="19.04" rx="9.52" fill="#222" fill-opacity="0.8" filter="url(#bl3_6)"/>
<rect x="763.99" y="1374.59" width="83.04" height="14.99" rx="7.49" fill="#555" fill-opacity="0.5" filter="url(#bl3_8)"/>
<rect x="879.43" y="1365.48" width="93.16" height="22.08" rx="11.04" fill="#000" fill-opacity="1" filter="url(#bl3_4)"/>
</g>
<clipPath id="bc11"><rect x="620.24" y="1419.2" width="368.91" height="33.32"/></clipPath>
<rect x="616.14" y="1415.1" width="377.11" height="41.52" fill="#000"/>
<g clip-path="url(#bc11)">
<rect x="620.24" y="1419.2" width="368.91" height="33.32" fill="url(#bgG3)"/>
<rect x="629.3" y="1417.53" width="102.28" height="36.66" rx="3" fill="#5a5a5a" fill-opacity="0.3" filter="url(#bl3_4)"/>
<rect x="749.81" y="1417.53" width="107.34" height="36.66" rx="3" fill="#5a5a5a" fill-opacity="0.3" filter="url(#bl3_4)"/>
<rect x="876.39" y="1417.53" width="103.29" height="36.66" rx="3" fill="#5a5a5a" fill-opacity="0.3" filter="url(#bl3_4)"/>
<rect x="630.92" y="1429.28" width="98.03" height="19.04" rx="9.52" fill="#000" fill-opacity="1" filter="url(#bl2_8)"/>
<rect x="752.44" y="1427.25" width="102.08" height="19.04" rx="9.52" fill="#000" fill-opacity="1" filter="url(#bl2_8)"/>
<rect x="879.03" y="1426.24" width="98.03" height="20.05" rx="10.03" fill="#000" fill-opacity="1" filter="url(#bl2_8)"/>
</g>
<text class="ff-serif" x="674.64" y="1513.1" font-size="42.4" stroke="#000" stroke-width="0.6">+</text>
<text class="ff-serif" x="802.24" y="1506.94" font-size="40" stroke="#000" stroke-width="0.4">-</text>
<text class="ff-serif" x="932.04" y="1506.94" font-size="40" stroke="#000" stroke-width="0.4">-</text>
<text class="ff-serif" x="678.74" y="1572.44" font-size="40" stroke="#000" stroke-width="0.4">-</text>
<text class="ff-serif" x="795.74" y="1579.8" font-size="42.4" stroke="#000" stroke-width="0.6">+</text>
<text class="ff-serif" x="923.64" y="1576.3" font-size="42.4" stroke="#000" stroke-width="0.6">+</text>
<text class="ff-serif" x="679.64" y="1636.24" font-size="40" stroke="#000" stroke-width="0.4">-</text>
<text class="ff-serif" x="800.74" y="1636.24" font-size="40" stroke="#000" stroke-width="0.4">-</text>
<text class="ff-serif" x="925.04" y="1641" font-size="42.4" stroke="#000" stroke-width="0.6">+</text>
</g>
<g id="panelH">
<text class="ff-serif" x="1164" y="1205.9" font-size="48" font-weight="bold">H</text>
<line x1="1300.2" y1="1264.5" x2="1300.2" y2="1521.25" stroke="#000" stroke-width="2.5" stroke-linecap="round"/>
<line x1="1290.55" y1="1520" x2="1299.6" y2="1520" stroke="#000" stroke-width="2.5" stroke-linecap="round"/>
<text class="ff-serif" x="1286.5" y="1527.2" font-size="20.6" text-anchor="end">0.0</text>
<line x1="1290.55" y1="1456.12" x2="1299.6" y2="1456.12" stroke="#000" stroke-width="2.5" stroke-linecap="round"/>
<text class="ff-serif" x="1286.5" y="1463.33" font-size="20.6" text-anchor="end">0.5</text>
<line x1="1290.55" y1="1392.25" x2="1299.6" y2="1392.25" stroke="#000" stroke-width="2.5" stroke-linecap="round"/>
<text class="ff-serif" x="1286.5" y="1399.45" font-size="20.6" text-anchor="end">1.0</text>
<line x1="1290.55" y1="1328.38" x2="1299.6" y2="1328.38" stroke="#000" stroke-width="2.5" stroke-linecap="round"/>
<text class="ff-serif" x="1286.5" y="1335.58" font-size="20.6" text-anchor="end">1.5</text>
<line x1="1290.55" y1="1264.5" x2="1299.6" y2="1264.5" stroke="#000" stroke-width="2.5" stroke-linecap="round"/>
<text class="ff-serif" x="1286.5" y="1271.7" font-size="20.6" text-anchor="end">2.0</text>
<line x1="1290.55" y1="1520" x2="1682.95" y2="1520" stroke="#000" stroke-width="2.5" stroke-linecap="round"/>
<line x1="1391.3" y1="1520.6" x2="1391.3" y2="1529.75" stroke="#000" stroke-width="2.5" stroke-linecap="round"/>
<line x1="1591.4" y1="1520.6" x2="1591.4" y2="1529.75" stroke="#000" stroke-width="2.5" stroke-linecap="round"/>
<line x1="1337" y1="1383.5" x2="1337" y2="1392.3" stroke="#000" stroke-width="2.6"/><line x1="1328.6" y1="1383.5" x2="1345.4" y2="1383.5" stroke="#000" stroke-width="2.6" stroke-linecap="round"/>
<rect x="1318.95" y="1392.25" width="36.1" height="127.75" fill="#000" stroke="#000" stroke-width="2.7" stroke-linejoin="round"/>
<line x1="1391.3" y1="1432.9" x2="1391.3" y2="1443.1" stroke="#000" stroke-width="2.6"/><line x1="1382.9" y1="1432.9" x2="1399.7" y2="1432.9" stroke="#000" stroke-width="2.6" stroke-linecap="round"/>
<rect x="1373.55" y="1443.05" width="35.5" height="76.95" fill="#df3229" stroke="#000" stroke-width="2.7" stroke-linejoin="round"/>
<line x1="1445.9" y1="1300.2" x2="1445.9" y2="1308.9" stroke="#000" stroke-width="2.6"/><line x1="1437.5" y1="1300.2" x2="1454.3" y2="1300.2" stroke="#000" stroke-width="2.6" stroke-linecap="round"/>
<rect x="1428.15" y="1308.85" width="35.5" height="211.15" fill="#4dbf3e" stroke="#000" stroke-width="2.7" stroke-linejoin="round"/>
<line x1="1537.1" y1="1380.6" x2="1537.1" y2="1392.3" stroke="#000" stroke-width="2.6"/><line x1="1528.7" y1="1380.6" x2="1545.5" y2="1380.6" stroke="#000" stroke-width="2.6" stroke-linecap="round"/>
<rect x="1519.05" y="1392.25" width="36.1" height="127.75" fill="#000" stroke="#000" stroke-width="2.7" stroke-linejoin="round"/>
<line x1="1591.4" y1="1390" x2="1591.4" y2="1398.1" stroke="#000" stroke-width="2.6"/><line x1="1583" y1="1390" x2="1599.8" y2="1390" stroke="#000" stroke-width="2.6" stroke-linecap="round"/>
<rect x="1573.65" y="1398.05" width="35.5" height="121.95" fill="#df3229" stroke="#000" stroke-width="2.7" stroke-linejoin="round"/>
<line x1="1646.1" y1="1388" x2="1646.1" y2="1395.8" stroke="#000" stroke-width="2.6"/><line x1="1637.7" y1="1388" x2="1654.5" y2="1388" stroke="#000" stroke-width="2.6" stroke-linecap="round"/>
<rect x="1628.35" y="1395.75" width="35.5" height="124.25" fill="#4dbf3e" stroke="#000" stroke-width="2.7" stroke-linejoin="round"/>
<polyline points="1336.7,1285.6 1336.7,1270.2 1391.3,1270.2 1391.3,1285.6" fill="none" stroke="#000" stroke-width="2.6" stroke-linejoin="round" stroke-linecap="round"/>
<polyline points="1391.3,1231.4 1391.3,1215.9 1445.9,1215.9 1445.9,1231.4" fill="none" stroke="#000" stroke-width="2.6" stroke-linejoin="round" stroke-linecap="round"/>
<polyline points="1536.5,1285.6 1536.5,1270.7 1585.7,1270.7 1585.7,1285.6" fill="none" stroke="#000" stroke-width="2.6" stroke-linejoin="round" stroke-linecap="round"/>
<polyline points="1596.3,1285.6 1596.3,1270.7 1645.8,1270.7 1645.8,1285.6" fill="none" stroke="#000" stroke-width="2.6" stroke-linejoin="round" stroke-linecap="round"/>
<text class="ff-serif" font-weight="bold" font-size="31.8" transform="translate(1365.7 1251.18) scale(1 1.14)" x="-31.78" y="15.01">****</text>
<text class="ff-serif" font-weight="bold" font-size="31.8" transform="translate(1420.3 1197.18) scale(1 1.14)" x="-31.78" y="15.01">****</text>
<text class="ff-serif" x="1560.8" y="1256.8" font-size="20.6" text-anchor="middle">ns</text>
<text class="ff-serif" x="1620.8" y="1256.8" font-size="20.6" text-anchor="middle">ns</text>
<text class="ff-serif" x="1247.6" y="1391.3" font-size="21" text-anchor="middle" transform="rotate(-90 1247.6 1391.3)">Fold change</text>
<rect x="1696.4" y="1277.8" width="28.4" height="15" fill="#000" rx="1.2"/>
<rect x="1697.5" y="1312.6" width="26.2" height="13" fill="#df3229" stroke="#000" stroke-width="2.2"/>
<rect x="1697.5" y="1346.5" width="26.2" height="13" fill="#4dbf3e" stroke="#000" stroke-width="2.2"/>
<text class="ff-serif" x="1740" y="1291.6" font-size="21.1">ASO-NC</text>
<text class="ff-serif" x="1740" y="1325.6" font-size="21.1">ASO-CARMN</text>
<text class="ff-serif" x="1740" y="1360.3" font-size="21.1">ASO-CARMN+MK2206</text>
<text class="ff-serif" x="1398.3" y="1548.3" font-size="21.4" text-anchor="end" transform="rotate(-45 1398.3 1548.3)">ATG7</text>
<text class="ff-serif" x="1597.6" y="1548.8" font-size="21.3" text-anchor="end" transform="rotate(-45 1597.6 1548.8)">LC3 II/LC3 I</text>
</g>
</svg>
</body>
</html>
